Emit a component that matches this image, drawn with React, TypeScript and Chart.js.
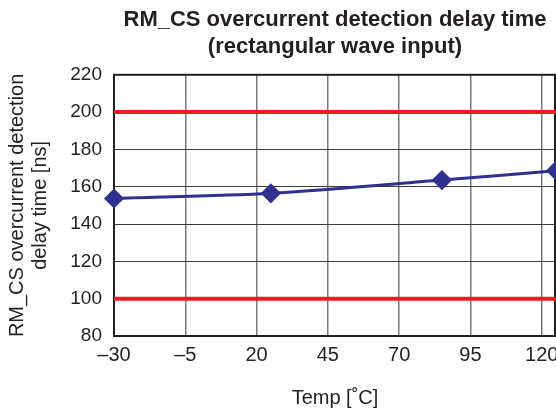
import React, { useEffect, useRef } from "react";
import { Chart, registerables } from "chart.js";

Chart.register(...registerables);

const temps = [-30, 25, 85, 125];
const delayNs = [153.7, 156.5, 163.6, 168.6];
const xTicks = [-30, -5, 20, 45, 70, 95, 120];
const xRange = [-30, 125];
const yTicksRange = [80, 220];
const upperLimit = 200;
const lowerLimit = 100;
const titleLines = ["RM_CS overcurrent detection delay time", "(rectangular wave input)"];
const yTitleLines = ["RM_CS overcurrent detection", "delay time [ns]"];
const xTitle = "Temp [\u02DAC]";

const FONT = "'Liberation Sans', Arial, Helvetica, sans-serif";
const TEXT = "#231f20";

const framePlugin = {
  id: "frame",
  beforeDatasetsDraw(chart: any) {
    const { ctx, chartArea } = chart;
    ctx.save();
    ctx.strokeStyle = "#231f20";
    ctx.lineWidth = 2;
    ctx.strokeRect(chartArea.left, chartArea.top, chartArea.right - chartArea.left - 1, chartArea.bottom - chartArea.top);
    ctx.restore();
  },
};

export default function App() {
  const ref = useRef<HTMLCanvasElement | null>(null);
  useEffect(() => {
    if (!ref.current) return;
    const limitData = (v: number) => [
      { x: xRange[0], y: v },
      { x: xRange[1], y: v },
    ];
    const chart = new Chart(ref.current, {
      type: "line",
      data: {
        datasets: [
          {
            label: "upper",
            data: limitData(upperLimit),
            borderColor: "#ed1c24",
            borderWidth: 4,
            pointRadius: 0,
            clip: false,
          },
          {
            label: "lower",
            data: limitData(lowerLimit),
            borderColor: "#ed1c24",
            borderWidth: 4,
            pointRadius: 0,
            clip: false,
          },
          {
            label: "delay",
            data: temps.map((t, i) => ({ x: t, y: delayNs[i] })),
            borderColor: "#2e3192",
            backgroundColor: "#2e3192",
            borderWidth: 3,
            pointStyle: "rectRot",
            pointRadius: 8,
            tension: 0.3,
            clip: false,
          },
        ],
      },
      options: {
        responsive: false,
        animation: false,
        layout: { padding: 0, autoPadding: false },
        plugins: {
          legend: { display: false },
          tooltip: { enabled: false },
          title: {
            display: true,
            text: titleLines,
            fullSize: false,
            color: TEXT,
            font: { family: FONT, size: 22, weight: "bold", lineHeight: 1.2 },
            padding: { top: 7, bottom: 15 },
          },
        },
        scales: {
          x: {
            type: "linear",
            min: xRange[0],
            max: xRange[1],
            afterBuildTicks: (s: any) => {
              s.ticks = xTicks.map((v) => ({ value: v }));
            },
            afterFit: (s: any) => {
              s.height = 78;
              s.paddingRight = 0;
              s.paddingLeft = 0;
            },
            grid: { color: "#7a7a7a", lineWidth: 1.5, drawTicks: false },
            border: { display: true, color: "#231f20", width: 2 },
            ticks: {
              color: TEXT,
              font: { family: FONT, size: 20 },
              padding: 7,
              maxRotation: 0,
              autoSkip: false,
              callback: (v: any) => (Number(v) < 0 ? "\u2013" + Math.abs(Number(v)) : String(v)),
            },
            title: {
              display: true,
              text: xTitle,
              color: TEXT,
              font: { family: FONT, size: 20 },
              padding: { top: 0, bottom: 3.5 },
            },
          },
          y: {
            type: "linear",
            min: yTicksRange[0],
            max: yTicksRange[1],
            afterFit: (s: any) => {
              s.width = 114;
            },
            grid: { color: "#3a3a3a", lineWidth: 1, drawTicks: false },
            border: { display: true, color: "#231f20", width: 2 },
            ticks: {
              stepSize: 20,
              color: TEXT,
              font: { family: FONT, size: 19 },
              padding: 12,
            },
            title: {
              display: true,
              text: yTitleLines,
              color: TEXT,
              font: { family: FONT, size: 20, lineHeight: 1.15 },
              padding: { top: 6, bottom: 0 },
            },
          },
        },
      },
      plugins: [framePlugin],
    } as any);
    return () => chart.destroy();
  }, []);
  return (
    <div style={{ position: "fixed", left: 0, top: 0, width: 556, height: 414, background: "#fff" }}>
      <canvas ref={ref} width={556} height={414} style={{ display: "block" }} />
    </div>
  );
}
